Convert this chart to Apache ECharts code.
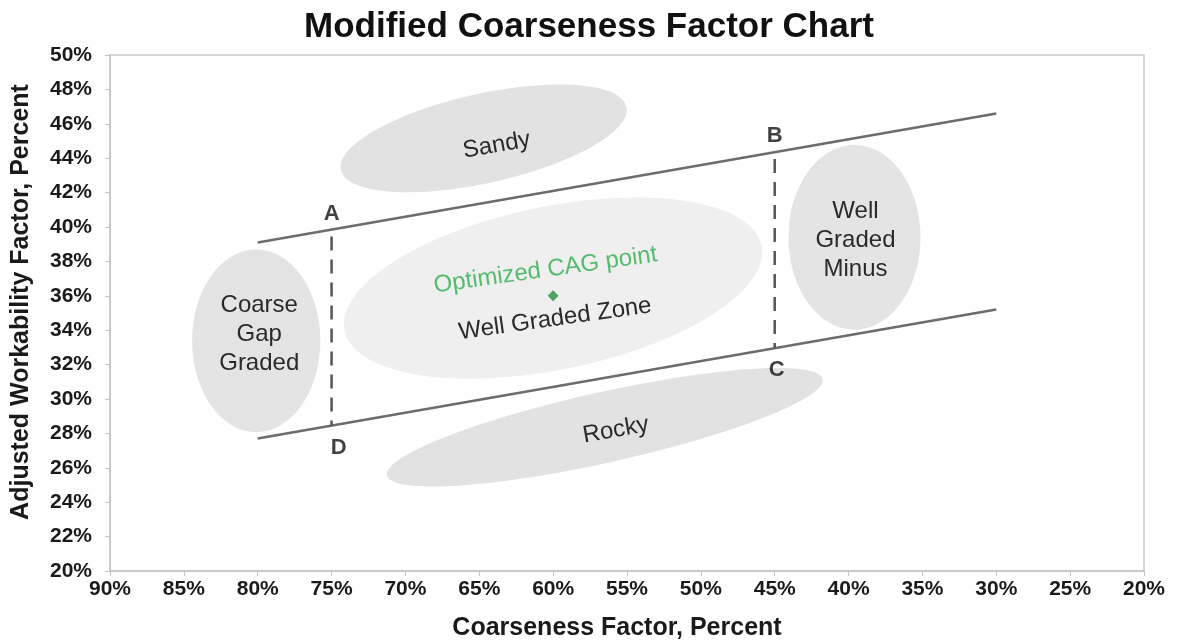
<!DOCTYPE html>
<html>
<head>
<meta charset="utf-8">
<script src="https://cdn.jsdelivr.net/npm/echarts@6/dist/echarts.min.js"></script>
<style>
  html, body { margin: 0; padding: 0; background: #fff; }
  #main { width: 1178px; height: 643px; }
</style>
</head>
<body>
<div id="main"></div>
<script>
// boundary lines (x = coarseness %, y = workability %)
var upperX = [80, 30];
var upperY = [39.1, 46.6];
var lowerX = [80, 30];
var lowerY = [27.7, 35.2];

// dashed limits A-D and B-C
var cornerNames = ["A", "D", "B", "C"];
var cornerX = [75, 75, 45, 45];
var cornerY = [39.85, 28.45, 44.35, 32.95];

// optimized point
var optX = 60;
var optY = 36;

// zones: centre, half width (x units), half height (y units), tilt in degrees
var zoneNames = ["Sandy", "Well Graded Zone", "Coarse\nGap\nGraded", "Well\nGraded\nMinus", "Rocky"];
var zoneX = [64.7, 60.0, 80.1, 39.6, 56.5];
var zoneY = [45.15, 36.45, 33.38, 39.4, 28.36];
var zoneHalfW = [9.9, 14.4, 4.34, 4.47, 15.1];
var zoneHalfH = [2.6, 4.75, 5.31, 5.37, 2.05];
var zoneTilt = [12.5, 11.5, 0, 0, 12.5];

var font = "Liberation Sans, Arial, sans-serif";

// label nudges in px, and fills
var zoneStyle = {
  "Sandy": { fill: "#e2e2e2", dx: 13, dy: 7, rot: 10 },
  "Well Graded Zone": { fill: "#efefef", dx: 2, dy: 31, rot: 8 },
  "Coarse\nGap\nGraded": { fill: "#e4e4e4", dx: 3, dy: -6, rot: 0 },
  "Well\nGraded\nMinus": { fill: "#e4e4e4", dx: 1, dy: 3, rot: 0 },
  "Rocky": { fill: "#e2e2e2", dx: 11, dy: 3, rot: 10 }
};

var zoneData = [];
for (var i = 0; i < zoneNames.length; i++) {
  zoneData.push([zoneX[i], zoneY[i], zoneHalfW[i], zoneHalfH[i], zoneTilt[i]]);
}
var cornerData = [];
for (var j = 0; j < cornerNames.length; j++) {
  var below = cornerNames[j] === "D" || cornerNames[j] === "C";
  cornerData.push({
    name: cornerNames[j],
    value: [cornerX[j], cornerY[j]],
    label: {
      position: below ? "bottom" : "top",
      distance: below ? 11 : 5,
      offset: cornerNames[j] === "D" ? [7, 0] : (cornerNames[j] === "C" ? [2, 0] : [0, 0])
    }
  });
}

var myChart = echarts.init(document.getElementById("main"));
myChart.setOption({
  animation: false,
  title: {
    text: "Modified Coarseness Factor Chart",
    left: "center",
    top: 5,
    textStyle: { fontFamily: font, fontSize: 35, fontWeight: "bold", color: "#111" }
  },
  grid: {
    left: 110, right: 34, top: 55, bottom: 72,
    outerBoundsMode: "none",
    show: true, borderColor: "#cccccc", borderWidth: 1.5
  },
  xAxis: {
    type: "value",
    inverse: true,
    min: 20, max: 90, interval: 5,
    name: "Coarseness Factor, Percent",
    nameLocation: "middle",
    nameGap: 45,
    nameTextStyle: {
      fontFamily: font, fontSize: 25, fontWeight: "bold", color: "#1a1a1a",
      padding: [0, 20, 0, 0]
    },
    axisLine: { lineStyle: { color: "#c4c4c4", width: 1.5 } },
    axisTick: { show: true, length: 5, lineStyle: { color: "#c4c4c4" } },
    splitLine: { show: false },
    axisLabel: {
      formatter: "{value}%", margin: 8,
      fontFamily: font, fontSize: 21, fontWeight: "bold", color: "#1a1a1a"
    }
  },
  yAxis: {
    type: "value",
    min: 20, max: 50, interval: 2,
    name: "Adjusted Workability Factor, Percent",
    nameLocation: "middle",
    nameGap: 76,
    nameTextStyle: {
      fontFamily: font, fontSize: 25, fontWeight: "bold", color: "#1a1a1a",
      padding: [0, 0, 0, 22]
    },
    axisLine: { show: true, lineStyle: { color: "#c4c4c4", width: 1.5 } },
    axisTick: { show: true, length: 5, lineStyle: { color: "#c4c4c4" } },
    splitLine: { show: false },
    axisLabel: {
      formatter: "{value}%", margin: 18,
      fontFamily: font, fontSize: 21, fontWeight: "bold", color: "#1a1a1a"
    }
  },
  series: [
    {
      type: "custom",
      z: 1,
      data: zoneData,
      renderItem: function (params, api) {
        var name = zoneNames[params.dataIndex];
        var st = zoneStyle[name];
        var c = api.coord([api.value(0), api.value(1)]);
        var s = api.size([api.value(2), api.value(3)]);
        var tilt = api.value(4) * Math.PI / 180;
        return {
          type: "group",
          children: [
            {
              type: "ellipse",
              x: c[0], y: c[1],
              rotation: tilt,
              shape: { cx: 0, cy: 0, rx: Math.abs(s[0]), ry: Math.abs(s[1]) },
              style: { fill: st.fill }
            },
            {
              type: "text",
              x: c[0] + st.dx, y: c[1] + st.dy,
              rotation: st.rot * Math.PI / 180,
              style: {
                text: name, fill: "#2a2a2a", font: "24px " + font,
                align: "center", verticalAlign: "middle", lineHeight: 29
              }
            }
          ]
        };
      }
    },
    {
      name: "upper",
      type: "line",
      z: 3,
      symbol: "none",
      data: upperX.map(function (x, k) { return [x, upperY[k]]; }),
      lineStyle: { color: "#6c6c6c", width: 2.5 }
    },
    {
      name: "lower",
      type: "line",
      z: 3,
      symbol: "none",
      data: lowerX.map(function (x, k) { return [x, lowerY[k]]; }),
      lineStyle: { color: "#6c6c6c", width: 2.5 }
    },
    {
      name: "AD",
      type: "line",
      z: 3,
      symbol: "none",
      data: [[cornerX[0], cornerY[0] - 0.4], [cornerX[1], cornerY[1]]],
      lineStyle: { color: "#555", width: 2.5, type: [14, 9] }
    },
    {
      name: "BC",
      type: "line",
      z: 3,
      symbol: "none",
      data: [[cornerX[2], cornerY[2] - 0.4], [cornerX[3], cornerY[3]]],
      lineStyle: { color: "#555", width: 2.5, type: [14, 9] }
    },
    {
      name: "corners",
      type: "scatter",
      z: 4,
      symbolSize: 0,
      data: cornerData,
      label: {
        show: true,
        formatter: "{b}",
        fontFamily: font, fontSize: 22, fontWeight: "bold", color: "#111"
      }
    },
    {
      name: "Optimized CAG point",
      type: "scatter",
      z: 5,
      symbol: "diamond",
      symbolSize: 11,
      itemStyle: { color: "#2b8f40" },
      data: [[optX, optY]],
      label: {
        show: true,
        formatter: "Optimized CAG point",
        position: "top",
        distance: 9,
        offset: [-6, 0],
        rotate: 8,
        fontFamily: font, fontSize: 24, color: "#2fae4e"
      }
    }
  ]
});
</script>
</body>
</html>
